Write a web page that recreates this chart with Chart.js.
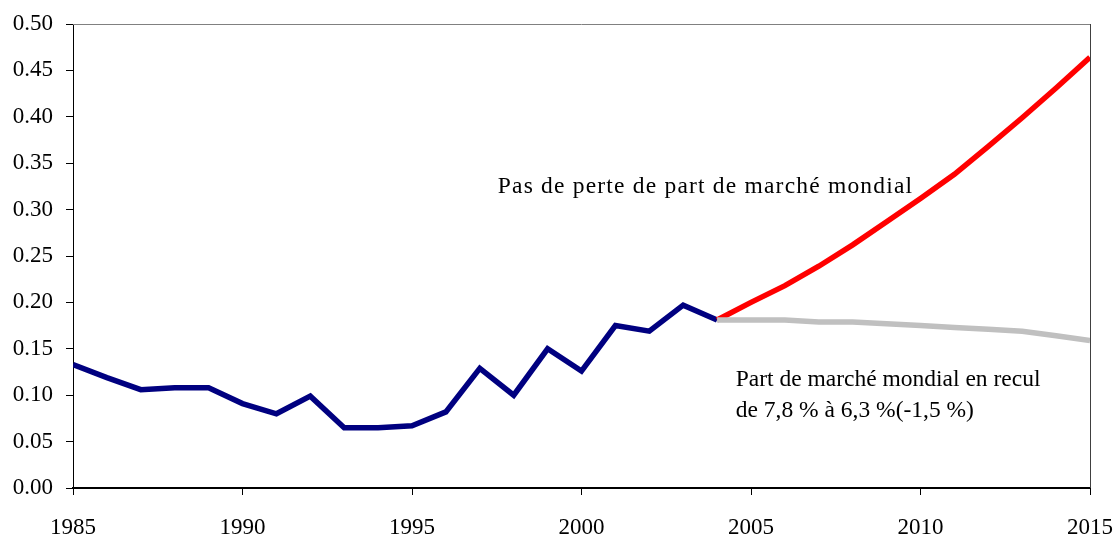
<!DOCTYPE html>
<html>
<head>
<meta charset="utf-8">
<script src="https://cdn.jsdelivr.net/npm/chart.js@4/dist/chart.umd.min.js"></script>
<style>
  html, body { margin: 0; padding: 0; background: #fff; }
  #wrap { width: 1115px; height: 536px; }
</style>
</head>
<body>
<div id="wrap"><canvas id="chart"></canvas></div>
<script>
// Données historiques (1985-2004)
const histYears = [1985, 1986, 1987, 1988, 1989, 1990, 1991, 1992, 1993, 1994,
                   1995, 1996, 1997, 1998, 1999, 2000, 2001, 2002, 2003, 2004];
const histShare = [0.133, 0.119, 0.106, 0.108, 0.108, 0.091, 0.080, 0.099, 0.065, 0.065,
                   0.067, 0.082, 0.129, 0.100, 0.150, 0.126, 0.175, 0.169, 0.197, 0.181];

// Projections (2004-2015)
const projYears = [2004, 2005, 2006, 2007, 2008, 2009, 2010, 2011, 2012, 2013, 2014, 2015];
const noLossShare = [0.181, 0.200, 0.218, 0.239, 0.262, 0.287, 0.312, 0.338, 0.368, 0.399, 0.431, 0.464];
const declineShare = [0.181, 0.181, 0.181, 0.179, 0.179, 0.177, 0.175, 0.173, 0.171, 0.169, 0.164, 0.159];

const noLossLabel = 'Pas de perte de part de marché mondial';
const declineLabel = ['Part de marché mondial en recul', 'de 7,8 % à 6,3 %(-1,5 %)'];

const FONT = "'Liberation Serif', 'Times New Roman', serif";

const toPoints = (xs, ys) => xs.map((x, i) => ({ x: x, y: ys[i] }));

// Cadre gris en haut et à droite + textes d'annotation
const framePlugin = {
  id: 'frame',
  afterDraw: (chart) => {
    const { ctx, chartArea: { left, right, top, bottom }, scales: { x, y } } = chart;
    ctx.save();
    ctx.lineWidth = 1;
    ctx.strokeStyle = '#808080';
    ctx.beginPath();
    ctx.moveTo(left, top + 0.5);
    ctx.lineTo(right, top + 0.5);
    ctx.stroke();
    ctx.strokeStyle = '#404040';
    ctx.beginPath();
    ctx.moveTo(right + 0.5, top);
    ctx.lineTo(right + 0.5, bottom);
    ctx.stroke();

    ctx.fillStyle = '#000';
    ctx.textAlign = 'left';
    ctx.textBaseline = 'alphabetic';
    ctx.font = '23.5px ' + FONT;
    ctx.letterSpacing = '1.2px';
    ctx.fillText(noLossLabel, x.getPixelForValue(1997.53), y.getPixelForValue(0.318));
    ctx.letterSpacing = '0px';
    ctx.fillText(declineLabel[0], x.getPixelForValue(2004.55), y.getPixelForValue(0.110));
    ctx.fillText(declineLabel[1], x.getPixelForValue(2004.55), y.getPixelForValue(0.0765));
    ctx.restore();
  }
};

new Chart(document.getElementById('chart'), {
  type: 'line',
  data: {
    datasets: [
      {
        data: toPoints(histYears, histShare),
        borderColor: '#000080',
        borderWidth: 5.5,
        pointRadius: 0,
        tension: 0,
        order: 3
      },
      {
        data: toPoints(projYears, noLossShare),
        borderColor: '#ff0000',
        borderWidth: 5.5,
        pointRadius: 0,
        tension: 0,
        order: 2
      },
      {
        data: toPoints(projYears, declineShare),
        borderColor: '#c0c0c0',
        borderWidth: 5.5,
        pointRadius: 0,
        tension: 0,
        order: 1
      }
    ]
  },
  options: {
    responsive: true,
    maintainAspectRatio: false,
    animation: false,
    layout: { padding: { top: 24, right: 25, left: 0, bottom: 0 } },
    plugins: {
      legend: { display: false },
      tooltip: { enabled: false }
    },
    scales: {
      x: {
        type: 'linear',
        min: 1985,
        max: 2015,
        afterFit: (scale) => {
          scale.height = 48;
          scale.paddingLeft = 0;
          scale.paddingRight = 0;
        },
        grid: { drawOnChartArea: false, drawTicks: true, tickLength: 7, color: '#000', tickWidth: 1 },
        border: { color: '#000', width: 2 },
        ticks: {
          stepSize: 5,
          color: '#000',
          padding: 19,
          maxRotation: 0,
          font: { family: FONT, size: 23 },
          callback: (v) => String(v)
        }
      },
      y: {
        min: 0,
        max: 0.5,
        afterFit: (scale) => {
          scale.width = 73;
          scale.paddingTop = 0;
          scale.paddingBottom = 0;
        },
        grid: { drawOnChartArea: false, drawTicks: true, tickLength: 7, color: '#000', tickWidth: 1 },
        border: { color: '#000', width: 1 },
        ticks: {
          stepSize: 0.05,
          color: '#000',
          padding: 13,
          font: { family: FONT, size: 23 },
          callback: (v) => Number(v).toFixed(2)
        }
      }
    }
  },
  plugins: [framePlugin]
});
</script>
</body>
</html>
